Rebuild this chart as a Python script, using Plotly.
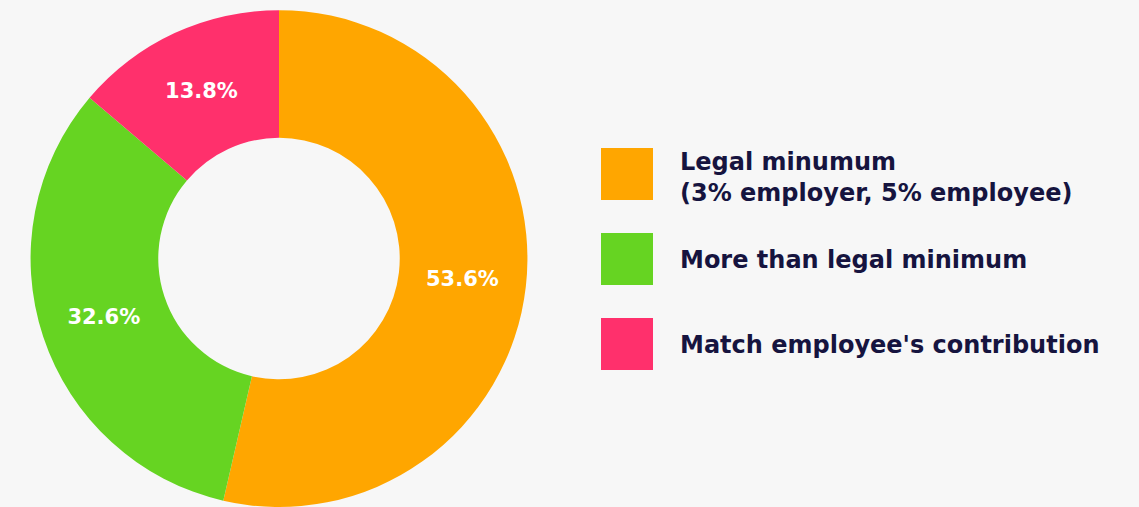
import plotly.graph_objects as go

# Employer pension contribution shares
categories = [
    "Legal minumum<br>(3% employer, 5% employee)",
    "More than legal minimum",
    "Match employee's contribution",
]
shares = [53.6, 32.6, 13.8]
colors = ["#FFA600", "#66D422", "#FF306C"]

W, H = 1139, 507
BG = "#F7F7F7"
INK = "#16143F"

fig = go.Figure()

fig.add_trace(go.Pie(
    labels=categories,
    values=shares,
    sort=False,
    direction="clockwise",
    rotation=0,
    hole=0.486,
    marker=dict(colors=colors, line=dict(width=0)),
    texttemplate="%{value:.1f}%",
    textposition="inside",
    insidetextorientation="horizontal",
    textfont=dict(family="DejaVu Sans", size=21, color="white", weight="bold"),
    domain=dict(x=[30.5 / W, 527.5 / W], y=[0, 0.98]),
    showlegend=False,
    hoverinfo="label+percent",
))

# Custom legend: large colour swatches with labels to the right
sw_left, sw_size, sw_top0, sw_step = 601, 52, 148, 85
text_left = 678
shapes, annotations = [], []
for i, (name, col) in enumerate(zip(categories, colors)):
    top = sw_top0 + sw_step * i
    shapes.append(dict(
        type="rect", xref="paper", yref="paper",
        x0=sw_left / W, x1=(sw_left + sw_size) / W,
        y0=1 - (top + sw_size) / H, y1=1 - top / H,
        fillcolor=col, line=dict(width=0), layer="above",
    ))
    annotations.append(dict(
        xref="paper", yref="paper",
        x=text_left / W, y=1 - (top + sw_size / 2 + (3 if "<br>" in name else 1)) / H,
        xanchor="left", yanchor="middle", align="left",
        text=name, showarrow=False,
        font=dict(family="DejaVu Sans", size=24, color=INK, weight="bold"),
    ))

fig.update_layout(
    width=W, height=H,
    margin=dict(l=0, r=0, t=0, b=0),
    paper_bgcolor=BG, plot_bgcolor=BG,
    shapes=shapes, annotations=annotations,
)

fig.write_html("out.html")
